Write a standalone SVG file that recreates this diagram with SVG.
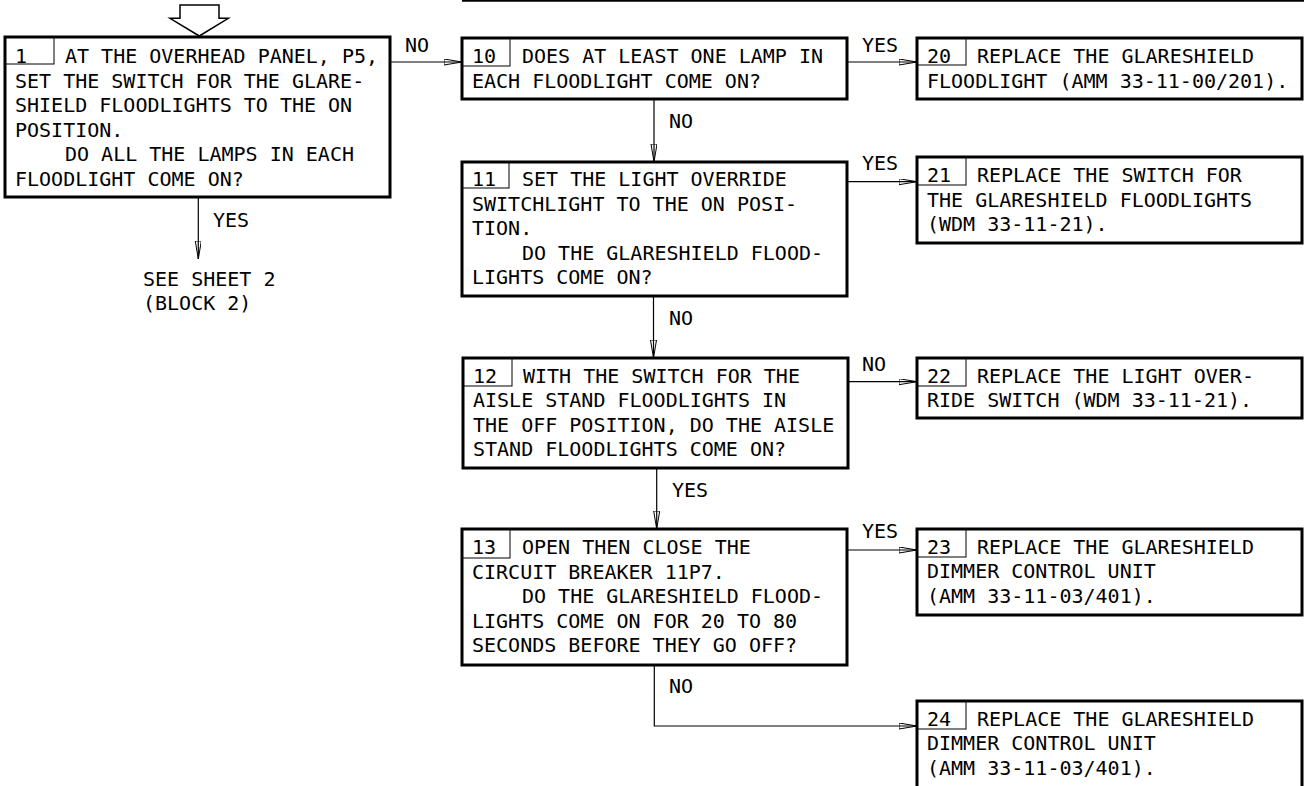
<svg xmlns="http://www.w3.org/2000/svg" width="1304" height="786" viewBox="0 0 1304 786">
<style>
text{font-family:"DejaVu Sans Mono","Liberation Mono",monospace;font-size:20px;fill:#000}
.box{fill:#fff;stroke:#000;stroke-width:3}
.num{fill:none;stroke:#000;stroke-width:1}
.con{fill:none;stroke:#000;stroke-width:1.2}
</style>
<defs>
<marker id="ah" markerUnits="userSpaceOnUse" markerWidth="20" markerHeight="8" refX="18" refY="3" orient="auto">
<path d="M0,0 L18,3 L0,6 Z" fill="none" stroke="#000" stroke-width="1"/>
</marker>
</defs>
<line x1="462" y1="0" x2="1304" y2="0" stroke="#000" stroke-width="3.5"/>
<polygon points="180,5 219,5 219,18.3 228.3,18.3 199.3,36 170,18.3 180,18.3" fill="#fff" stroke="#000" stroke-width="1.5"/>
<g id="connectors">
<line class="con" x1="390" y1="62" x2="462" y2="62" marker-end="url(#ah)"/>
<line class="con" x1="847" y1="62" x2="917" y2="62" marker-end="url(#ah)"/>
<line class="con" x1="654" y1="99" x2="654" y2="162" marker-end="url(#ah)"/>
<line class="con" x1="847" y1="181.7" x2="917" y2="181.7" marker-end="url(#ah)"/>
<line class="con" x1="653.5" y1="296" x2="653.5" y2="358" marker-end="url(#ah)"/>
<line class="con" x1="848" y1="381.7" x2="917" y2="381.7" marker-end="url(#ah)"/>
<line class="con" x1="656.7" y1="468" x2="656.7" y2="529" marker-end="url(#ah)"/>
<line class="con" x1="847" y1="550" x2="917" y2="550" marker-end="url(#ah)"/>
<polyline class="con" points="654.3,665 654.3,726 917,726" marker-end="url(#ah)"/>
<line class="con" x1="198.3" y1="197" x2="198.3" y2="259" marker-end="url(#ah)"/>
<text x="405" y="52">NO</text>
<text x="862" y="52">YES</text>
<text x="669" y="128">NO</text>
<text x="862" y="170">YES</text>
<text x="669" y="325">NO</text>
<text x="862" y="371">NO</text>
<text x="672" y="497">YES</text>
<text x="862" y="538">YES</text>
<text x="669" y="693">NO</text>
<text x="213" y="227">YES</text>
</g>
<g id="sheet2">
<text x="143" y="286">SEE SHEET 2</text>
<text x="143" y="310">(BLOCK 2)</text>
</g>
<g id="block1">
<rect class="box" x="5" y="37" width="385" height="160"/>
<rect class="num" x="5" y="37" width="49" height="27"/>
<text x="15" y="63">1</text>
<text x="65" y="63">AT THE OVERHEAD PANEL, P5,</text>
<text x="15" y="87.6">SET THE SWITCH FOR THE GLARE-</text>
<text x="15" y="112.2">SHIELD FLOODLIGHTS TO THE ON</text>
<text x="15" y="136.8">POSITION.</text>
<text x="65" y="161.4">DO ALL THE LAMPS IN EACH</text>
<text x="15" y="186">FLOODLIGHT COME ON?</text>
</g>
<g id="block10">
<rect class="box" x="462" y="38" width="385" height="61"/>
<rect class="num" x="462" y="38" width="48" height="28"/>
<text x="472" y="63">10</text>
<text x="522" y="63">DOES AT LEAST ONE LAMP IN</text>
<text x="472" y="87.6">EACH FLOODLIGHT COME ON?</text>
</g>
<g id="block20">
<rect class="box" x="917" y="38" width="385" height="61"/>
<rect class="num" x="917" y="38" width="49" height="27"/>
<text x="927" y="63">20</text>
<text x="977" y="63">REPLACE THE GLARESHIELD</text>
<text x="927" y="87.6">FLOODLIGHT (AMM 33-11-00/201).</text>
</g>
<g id="block11">
<rect class="box" x="462" y="162" width="385" height="134"/>
<rect class="num" x="462" y="162" width="47" height="26"/>
<text x="472" y="186">11</text>
<text x="522" y="186">SET THE LIGHT OVERRIDE</text>
<text x="472" y="210.6">SWITCHLIGHT TO THE ON POSI-</text>
<text x="472" y="235.2">TION.</text>
<text x="522" y="259.8">DO THE GLARESHIELD FLOOD-</text>
<text x="472" y="284.4">LIGHTS COME ON?</text>
</g>
<g id="block21">
<rect class="box" x="917" y="157" width="385" height="86"/>
<rect class="num" x="917" y="157" width="49" height="28"/>
<text x="927" y="182">21</text>
<text x="977" y="182">REPLACE THE SWITCH FOR</text>
<text x="927" y="206.6">THE GLARESHIELD FLOODLIGHTS</text>
<text x="927" y="231.2">(WDM 33-11-21).</text>
</g>
<g id="block12">
<rect class="box" x="463" y="358" width="385" height="110"/>
<rect class="num" x="463" y="358" width="49" height="28"/>
<text x="473" y="382.5">12</text>
<text x="523" y="382.5">WITH THE SWITCH FOR THE</text>
<text x="473" y="407.1">AISLE STAND FLOODLIGHTS IN</text>
<text x="473" y="431.7">THE OFF POSITION, DO THE AISLE</text>
<text x="473" y="456.3">STAND FLOODLIGHTS COME ON?</text>
</g>
<g id="block22">
<rect class="box" x="917" y="358" width="385" height="60"/>
<rect class="num" x="917" y="358" width="49" height="28"/>
<text x="927" y="382.5">22</text>
<text x="977" y="382.5">REPLACE THE LIGHT OVER-</text>
<text x="927" y="407.1">RIDE SWITCH (WDM 33-11-21).</text>
</g>
<g id="block13">
<rect class="box" x="462" y="529" width="385" height="136"/>
<rect class="num" x="462" y="529" width="48" height="29"/>
<text x="472" y="554">13</text>
<text x="522" y="554">OPEN THEN CLOSE THE</text>
<text x="472" y="578.6">CIRCUIT BREAKER 11P7.</text>
<text x="522" y="603.2">DO THE GLARESHIELD FLOOD-</text>
<text x="472" y="627.8">LIGHTS COME ON FOR 20 TO 80</text>
<text x="472" y="652.4">SECONDS BEFORE THEY GO OFF?</text>
</g>
<g id="block23">
<rect class="box" x="917" y="529" width="385" height="86"/>
<rect class="num" x="917" y="529" width="49" height="28"/>
<text x="927" y="553.6">23</text>
<text x="977" y="553.6">REPLACE THE GLARESHIELD</text>
<text x="927" y="578.2">DIMMER CONTROL UNIT</text>
<text x="927" y="602.8">(AMM 33-11-03/401).</text>
</g>
<g id="block24">
<rect class="box" x="917" y="701" width="385" height="100"/>
<rect class="num" x="917" y="701" width="49" height="28"/>
<text x="927" y="725.6">24</text>
<text x="977" y="725.6">REPLACE THE GLARESHIELD</text>
<text x="927" y="750.2">DIMMER CONTROL UNIT</text>
<text x="927" y="774.8">(AMM 33-11-03/401).</text>
</g>
</svg>
